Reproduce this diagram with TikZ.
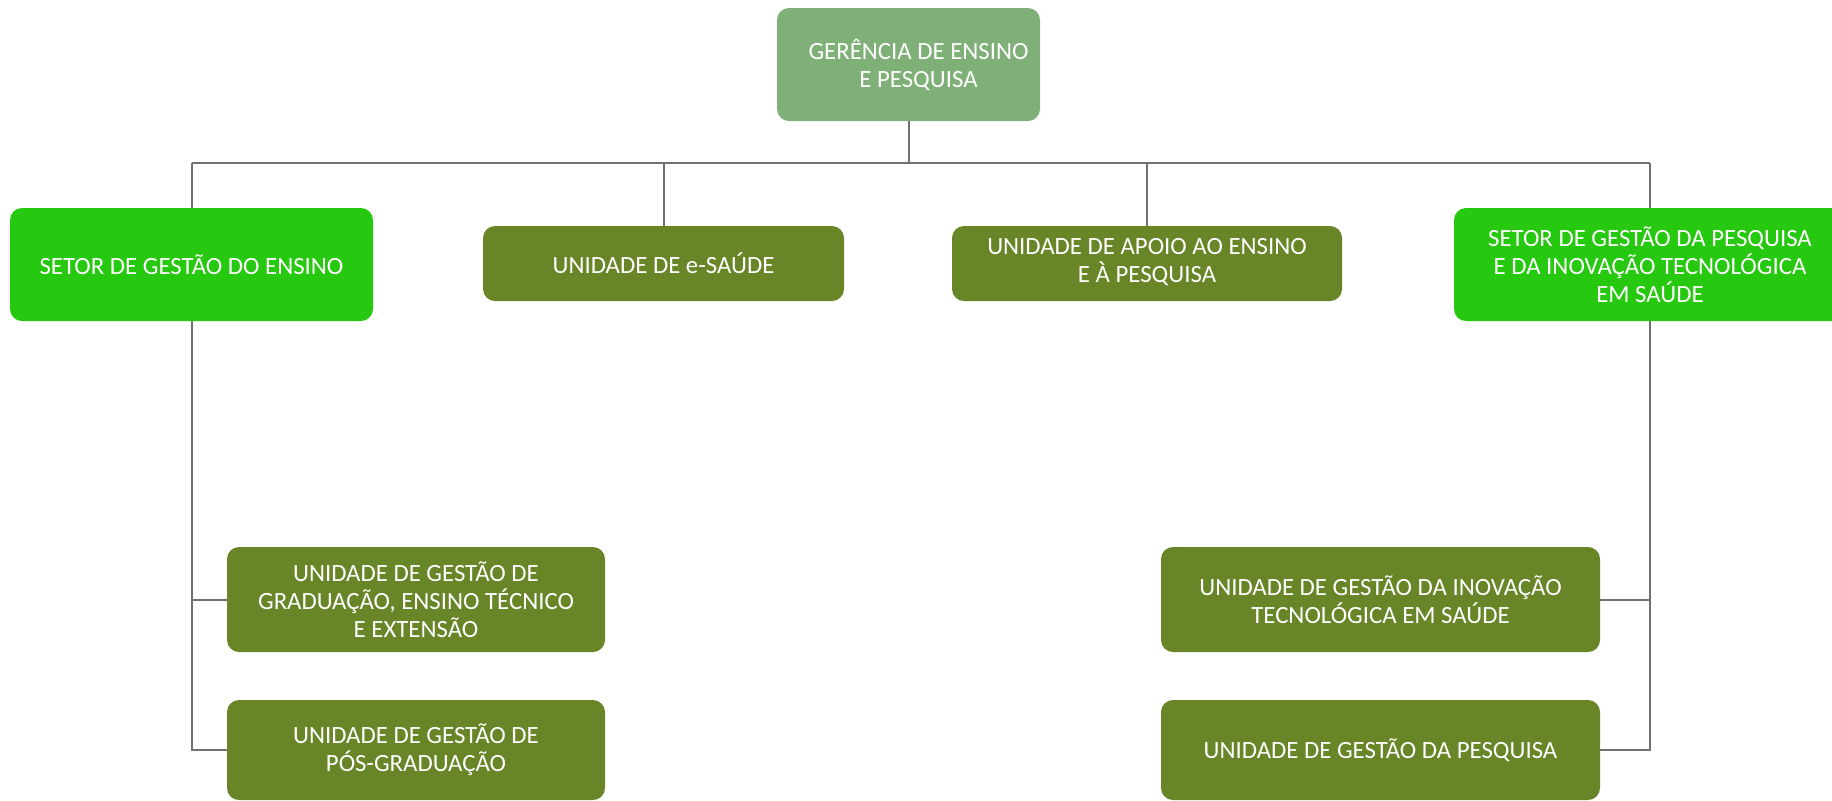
\documentclass[tikz,border=0pt]{standalone}
\usepackage{fontspec}
\setmainfont{Carlito}
\definecolor{topgreen}{HTML}{7FB077}
\definecolor{setorgreen}{HTML}{26C90F}
\definecolor{unitgreen}{HTML}{688528}
\definecolor{linegray}{HTML}{707070}
\tikzset{
  box/.style={rounded corners=6pt, text=white, align=center, inner sep=2pt,
    font=\fontsize{12.4pt}{14pt}\selectfont},
  topbox/.style={box, fill=topgreen},
  setorbox/.style={box, fill=setorgreen},
  unitbox/.style={box, fill=unitgreen},
  conn/.style={draw=linegray, line width=1pt}
}
\begin{document}
\begin{tikzpicture}[x=0.5pt,y=-0.5pt]
\clip (0,0) rectangle (1832,800);
\fill[white] (0,0) rectangle (1832,800);
\node[topbox, minimum width=131.5pt, minimum height=56.5pt] (top) at (908.5,64.5) {\hspace*{10pt}GERÊNCIA DE ENSINO\\\hspace*{10pt}E PESQUISA};
\node[setorbox, minimum width=181.5pt, minimum height=56.5pt] (se) at (191.5,264.5) {SETOR DE GESTÃO DO ENSINO};
\node[setorbox, minimum width=196pt, minimum height=56.5pt] (sp) at (1650,264.5) {SETOR DE GESTÃO DA PESQUISA\\E DA INOVAÇÃO TECNOLÓGICA\\EM SAÚDE};
\node[unitbox, minimum width=180.5pt, minimum height=37.5pt] (es) at (663.5,263.5) {UNIDADE DE e-SAÚDE};
\node[unitbox, minimum width=195pt, minimum height=37.5pt, text depth=3pt] (ap) at (1147,263.5) {UNIDADE DE APOIO AO ENSINO\\E À PESQUISA};
\node[unitbox, minimum width=189pt, minimum height=52.5pt] (ug) at (416,599.5) {UNIDADE DE GESTÃO DE\\GRADUAÇÃO, ENSINO TÉCNICO\\E EXTENSÃO};
\node[unitbox, minimum width=189pt, minimum height=50pt] (up) at (416,750) {UNIDADE DE GESTÃO DE\\PÓS-GRADUAÇÃO};
\node[unitbox, minimum width=219.5pt, minimum height=52.5pt] (ui) at (1380.5,599.5) {UNIDADE DE GESTÃO DA INOVAÇÃO\\TECNOLÓGICA EM SAÚDE};
\node[unitbox, minimum width=219.5pt, minimum height=50pt] (upq) at (1380.5,750) {UNIDADE DE GESTÃO DA PESQUISA};
\coordinate (bus) at (909,163);
\draw[conn] (top.south) -- (top.south |- bus);
\draw[conn] (se.north |- bus) -- (sp.north |- bus);
\draw[conn] (se.north |- bus) -- (se.north);
\draw[conn] (es.north |- bus) -- (es.north);
\draw[conn] (ap.north |- bus) -- (ap.north);
\draw[conn] (sp.north |- bus) -- (sp.north);
\draw[conn] (se.south) |- (up.west);
\draw[conn] (se.south |- ug.west) -- (ug.west);
\draw[conn] (sp.south) |- (upq.east);
\draw[conn] (sp.south |- ui.east) -- (ui.east);
\end{tikzpicture}
\end{document}
